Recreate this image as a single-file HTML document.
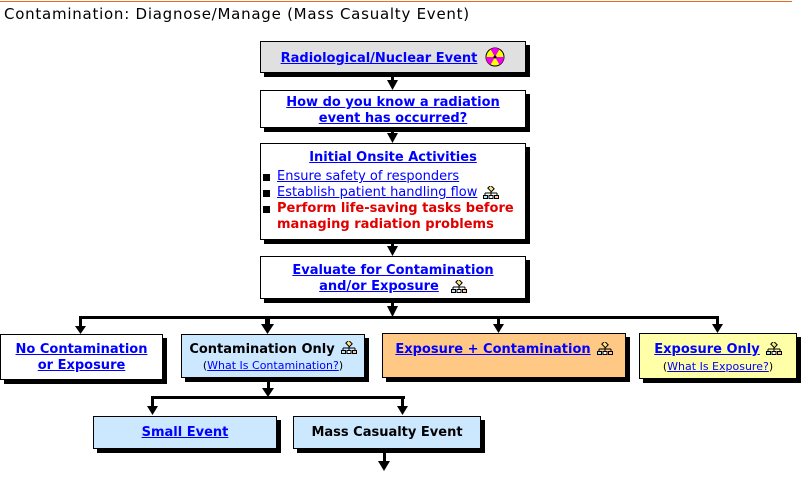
<!DOCTYPE html>
<html><head><meta charset="utf-8"><style>
body{margin:0;width:812px;height:477px;background:#fff;position:relative;overflow:hidden;font-family:"DejaVu Sans","Liberation Sans",sans-serif;}
.t{position:absolute;left:4px;top:5px;font-size:15px;color:#000;letter-spacing:0.75px}
.b{position:absolute;border:1px solid #000;box-shadow:4px 4px 0 #000;box-sizing:border-box;text-align:center;font-weight:bold;font-size:13px;line-height:16px}
a,.a{color:#0000ff;text-decoration:underline}
.s{font-weight:normal;font-size:11px}
.ic{display:inline-block;vertical-align:middle;margin-left:6px}
ul{list-style:none;margin:0;padding:0;text-align:left}
li{position:relative;padding-left:16px;font-weight:normal}
li:before{content:"";position:absolute;left:2px;top:5px;width:7px;height:7px;background:#000}
</style></head><body>
<div style="position:absolute;left:0;top:1px;width:792px;height:1px;background:#e96b20"></div>
<div class="t">Contamination: Diagnose/Manage (Mass Casualty Event)</div>
<svg width="812" height="477" style="position:absolute;left:0;top:0">
<g fill="#000" stroke="none">
<rect x="391" y="72" width="3" height="10"/><polygon points="387,80 398,80 392.5,90"/>
<rect x="391" y="127" width="3" height="8"/><polygon points="387,133 398,133 392.5,143"/>
<rect x="391" y="239" width="3" height="9"/><polygon points="387,246 398,246 392.5,256"/>
<rect x="391" y="298" width="3" height="10"/><polygon points="387,306 398,306 392.5,317"/>
<rect x="80" y="316" width="639" height="3"/>
<rect x="79" y="316" width="3" height="12"/><polygon points="75,326 86,326 80.5,334"/>
<rect x="265" y="316" width="5" height="10"/><polygon points="261,324 274,324 267.5,334"/>
<rect x="497" y="316" width="3" height="10"/><polygon points="493,324 504,324 498.5,333"/>
<rect x="716" y="316" width="3" height="10"/><polygon points="712,324 723,324 717.5,333"/>
<rect x="267" y="377" width="3" height="12"/><polygon points="262,388 274,388 268,397"/>
<rect x="151" y="396" width="254" height="3"/>
<rect x="151" y="396" width="3" height="12"/><polygon points="147,406 158,406 152.5,415"/>
<rect x="401" y="396" width="3" height="12"/><polygon points="397,406 408,406 402.5,415"/>
<rect x="383" y="450" width="3" height="12"/><polygon points="378,461 390,461 384,471"/>
</g></svg>
<svg width="0" height="0" style="position:absolute"><defs>
<g id="org"><rect x="5.5" y="0.5" width="5" height="4" fill="#ffe680" stroke="#000" transform="rotate(45 8 2.5)"/><path d="M8 5V7M2 7H14M2 7V9M8 7V9M14 7V9" stroke="#000" fill="none"/><rect x="0.5" y="9.5" width="4" height="3" fill="#aee" stroke="#000"/><rect x="6" y="9.5" width="4" height="3" fill="#fff" stroke="#000"/><rect x="11.5" y="9.5" width="4" height="3" fill="#fc9" stroke="#000"/></g>
</defs></svg>
<div class="b" style="left:260px;top:41px;width:266px;height:32px;background:#e0e0e0;padding-top:8px"><a>Radiological/Nuclear Event</a><svg class="ic" width="20" height="20" viewBox="0 0 20 20" style="margin-left:8px;margin-top:-3px"><circle cx="10" cy="10" r="9" fill="#ff0" stroke="#000"/><path d="M10 10L5.5 2.2A9 9 0 0 1 14.5 2.2Z M10 10L19 10A9 9 0 0 1 14.5 17.8Z M10 10L5.5 17.8A9 9 0 0 1 1 10Z" fill="#e0e"/><circle cx="10" cy="10" r="1.5" fill="#000"/></svg></div>
<div class="b" style="left:260px;top:90px;width:266px;height:38px;background:#fff;padding-top:4px"><a>How do you know a radiation<br>event has occurred?</a></div>
<div class="b" style="left:260px;top:143px;width:266px;height:97px;background:#fff;padding-top:6px"><a>Initial Onsite Activities</a>
<ul style="margin-top:3px"><li><a>Ensure safety of responders</a></li><li><a>Establish patient handling flow</a><svg class="ic" width="16" height="13"><use href="#org"/></svg></li><li style="color:#e00000;font-weight:bold">Perform life-saving tasks before managing radiation problems</li></ul></div>
<div class="b" style="left:260px;top:256px;width:266px;height:43px;background:#fff;padding-top:6px"><a>Evaluate for Contamination</a><br><a>and/or Exposure</a><svg class="ic" width="16" height="13" style="margin-left:12px"><use href="#org"/></svg></div>
<div class="b" style="left:0;top:334px;width:163px;height:46px;background:#fff;padding-top:7px"><a>No Contamination<br>or Exposure</a></div>
<div class="b" style="left:181px;top:334px;width:184px;height:44px;background:#cce8ff;padding-top:7px">Contamination Only<svg class="ic" width="16" height="13" style="margin-top:-4px"><use href="#org"/></svg><div class="s">(<a>What Is Contamination?</a>)</div></div>
<div class="b" style="left:382px;top:333px;width:244px;height:45px;background:#ffc985;padding-top:8px"><a>Exposure + Contamination</a><svg class="ic" width="16" height="13" style="margin-top:-3px"><use href="#org"/></svg></div>
<div class="b" style="left:639px;top:333px;width:158px;height:46px;background:#ffffa8;padding-top:8px"><a>Exposure Only</a><svg class="ic" width="16" height="13" style="margin-top:-3px"><use href="#org"/></svg><div class="s" style="margin-top:1px">(<a>What Is Exposure?</a>)</div></div>
<div class="b" style="left:93px;top:416px;width:184px;height:33px;background:#cce8ff;padding-top:8px"><a>Small Event</a></div>
<div class="b" style="left:293px;top:416px;width:188px;height:33px;background:#cce8ff;padding-top:8px">Mass Casualty Event</div>
</body></html>
